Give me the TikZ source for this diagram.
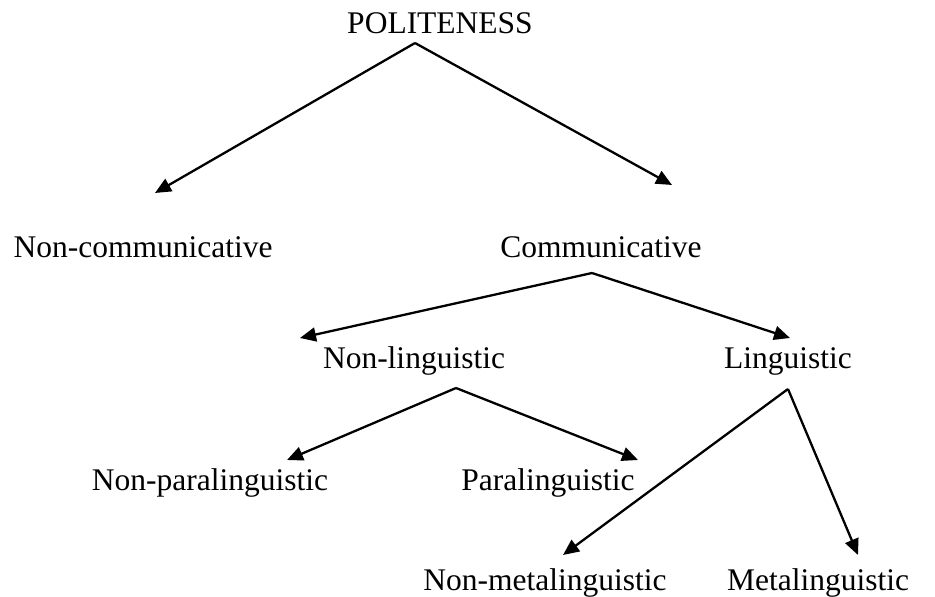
\documentclass[tikz,border=0pt]{standalone}
\usepackage{fontspec}
\setmainfont{Liberation Serif}
\usetikzlibrary{arrows.meta}
\begin{document}
\begin{tikzpicture}[x=1pt,y=-1pt,
  lbl/.style={inner sep=0pt,anchor=base,font=\fontsize{31.5}{36}\selectfont},
  conn/.style={line width=2.3pt,-{Triangle[length=16pt,width=14pt]}}]
\useasboundingbox (0,0) rectangle (935,597);
\node[lbl] (pol) at (440,33) {POLITENESS};
\node[lbl] (nc) at (143,257) {Non-communicative};
\node[lbl] (com) at (601,257) {Communicative};
\node[lbl] (nl) at (414,368) {Non-linguistic};
\node[lbl] (lin) at (788,368) {Linguistic};
\node[lbl] (npl) at (210,490) {Non-paralinguistic};
\node[lbl] (pl) at (548,490) {Paralinguistic};
\node[lbl] (nml) at (545,590) {Non-metalinguistic};
\node[lbl] (ml) at (818,590) {Metalinguistic};
% branch points and arrow tips
\coordinate (polB) at (415,43);
\coordinate (ncT) at (155,193);
\coordinate (comT) at (672,185);
\coordinate (comB) at (592,273);
\coordinate (nlT) at (300,338);
\coordinate (linT) at (790,338);
\coordinate (nlB) at (456,388);
\coordinate (nplT) at (287,460);
\coordinate (plT) at (638,460);
\coordinate (linB) at (788,389);
\coordinate (nmlT) at (563,555);
\coordinate (mlT) at (858,555);
\draw[conn] (polB) -- (ncT);
\draw[conn] (polB) -- (comT);
\draw[conn] (comB) -- (nlT);
\draw[conn] (comB) -- (linT);
\draw[conn] (nlB) -- (nplT);
\draw[conn] (nlB) -- (plT);
\draw[conn] (linB) -- (nmlT);
\draw[conn] (linB) -- (mlT);
\end{tikzpicture}
\end{document}
